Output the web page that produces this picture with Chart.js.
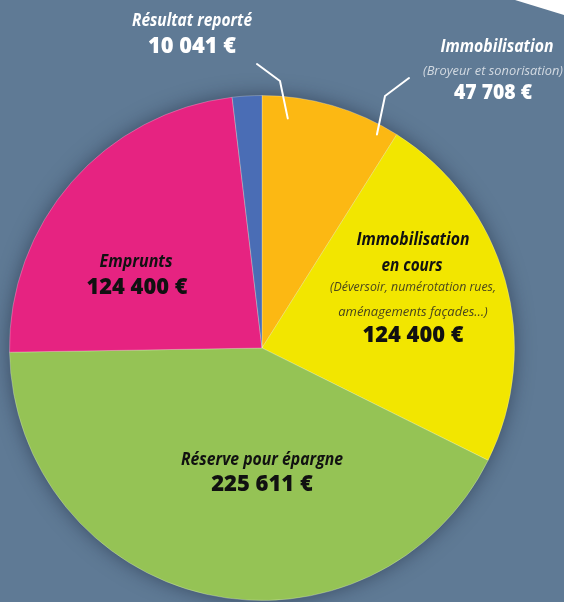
<!DOCTYPE html>
<html>
<head>
<meta charset="utf-8">
<script src="https://cdn.jsdelivr.net/npm/chart.js@4/dist/chart.umd.min.js"></script>
<style>
  html, body { margin: 0; padding: 0; background: #5f7a95; }
  #wrap { width: 564px; height: 602px; position: relative; }
  canvas { display: block; }
</style>
</head>
<body>
<div id="wrap"><canvas id="c" width="564" height="602"></canvas></div>
<script>
// ---- Data ----
const categories = ["Immobilisation", "Immobilisation en cours", "Réserve pour épargne", "Emprunts", "Résultat reporté"];
const values = [47708, 124400, 225611, 124400, 10041];
const valueLabels = ["47 708 €", "124 400 €", "225 611 €", "124 400 €", "10 041 €"];
const subLabels = [["(Broyeur et sonorisation)"], ["(Déversoir, numérotation rues,", "aménagements façades…)"], [], [], []];
const colors = ["#fcb813", "#f2e600", "#95c355", "#e62381", "#4a6db5"];

const FONT = "'Open Sans', Lato, sans-serif";

const bgPlugin = {
  id: 'bg',
  beforeDraw(chart) {
    const ctx = chart.ctx;
    ctx.save();
    ctx.fillStyle = '#5f7a95';
    ctx.fillRect(0, 0, chart.width, chart.height);
    ctx.fillStyle = '#ffffff';
    ctx.beginPath();
    ctx.moveTo(chart.width - 49, 0);
    ctx.lineTo(chart.width, 0);
    ctx.lineTo(chart.width, 15);
    ctx.closePath();
    ctx.fill();
    ctx.restore();
  },
  beforeDatasetsDraw(chart) {
    const arc = chart.getDatasetMeta(0).data[0];
    const ctx = chart.ctx;
    ctx.save();
    ctx.shadowColor = 'rgba(20,30,50,0.55)';
    ctx.shadowBlur = 20;
    ctx.fillStyle = colors[2];
    ctx.beginPath();
    ctx.arc(arc.x, arc.y, arc.outerRadius - 1, 0, Math.PI * 2);
    ctx.fill();
    ctx.restore();
  }
};

function txt(ctx, s, x, y, font, color, maxW) {
  ctx.font = font;
  ctx.fillStyle = color;
  ctx.textAlign = 'center';
  ctx.textBaseline = 'middle';
  const w = ctx.measureText(s).width;
  if (maxW && w > maxW) ctx.fillText(s, x, y, maxW);
  else ctx.fillText(s, x, y);
}

const labelPlugin = {
  id: 'labels',
  afterDatasetsDraw(chart) {
    const ctx = chart.ctx;
    const arc = chart.getDatasetMeta(0).data[0];
    const cx = arc.x, cy = arc.y, r = arc.outerRadius;
    ctx.save();
    ctx.strokeStyle = '#ffffff';
    ctx.lineWidth = 2;
    ctx.lineCap = 'round';
    const P = (deg, rr) => [cx + Math.sin(deg * Math.PI / 180) * rr, cy - Math.cos(deg * Math.PI / 180) * rr];
    // Résultat reporté leader
    let e = P(6.4, r * 0.915);
    ctx.beginPath(); ctx.moveTo(257, 64); ctx.lineTo(280, 81); ctx.lineTo(e[0], e[1]); ctx.stroke();
    // Immobilisation leader
    e = P(28.3, r * 0.96);
    ctx.beginPath(); ctx.moveTo(409, 78); ctx.lineTo(385, 96); ctx.lineTo(e[0], e[1]); ctx.stroke();

    // Résultat reporté label (slice 4)
    txt(ctx, categories[4], 192, 21, `italic bold 17px ${FONT}`, '#ffffff', 120);
    txt(ctx, valueLabels[4], 192, 47, `800 22px ${FONT}`, '#ffffff', 88);
    // Immobilisation (slice 0)
    txt(ctx, categories[0], 497, 47, `italic bold 17px ${FONT}`, '#ffffff', 113);
    txt(ctx, subLabels[0][0], 493, 71, `italic 13px ${FONT}`, '#d3dae2', 140);
    txt(ctx, valueLabels[0], 493, 93, `800 21px ${FONT}`, '#ffffff', 78);
    // Immobilisation en cours (slice 1)
    txt(ctx, "Immobilisation", cx + 151, 240, `italic bold 17px ${FONT}`, '#111111', 113);
    txt(ctx, "en cours", cx + 150, 266, `italic bold 17px ${FONT}`, '#111111', 61);
    txt(ctx, subLabels[1][0], cx + 151, 287, `italic 13px ${FONT}`, '#4a461c', 166);
    txt(ctx, subLabels[1][1], cx + 151, 312, `italic 13px ${FONT}`, '#4a461c', 153);
    txt(ctx, valueLabels[1], cx + 151, 336, `800 22px ${FONT}`, '#111111', 101);
    // Emprunts (slice 3)
    txt(ctx, categories[3], cx - 126, 262, `italic bold 17px ${FONT}`, '#111111', 73);
    txt(ctx, valueLabels[3], cx - 125, 288, `800 22px ${FONT}`, '#111111', 101);
    // Réserve (slice 2)
    txt(ctx, categories[2], cx, 460, `italic bold 17px ${FONT}`, '#111111', 162);
    txt(ctx, valueLabels[2], cx, 485, `800 22px ${FONT}`, '#111111', 104);
    ctx.restore();
  }
};

new Chart(document.getElementById('c'), {
  type: 'pie',
  data: {
    labels: categories,
    datasets: [{
      data: values,
      backgroundColor: colors,
      borderWidth: 1,
      borderColor: 'rgba(255,255,255,0.25)'
    }]
  },
  options: {
    responsive: false,
    animation: false,
    devicePixelRatio: 1,
    layout: { padding: { left: 9, right: 49, top: 95, bottom: 1 } },
    plugins: {
      legend: { display: false },
      tooltip: { enabled: false }
    }
  },
  plugins: [bgPlugin, labelPlugin]
});
</script>
</body>
</html>
